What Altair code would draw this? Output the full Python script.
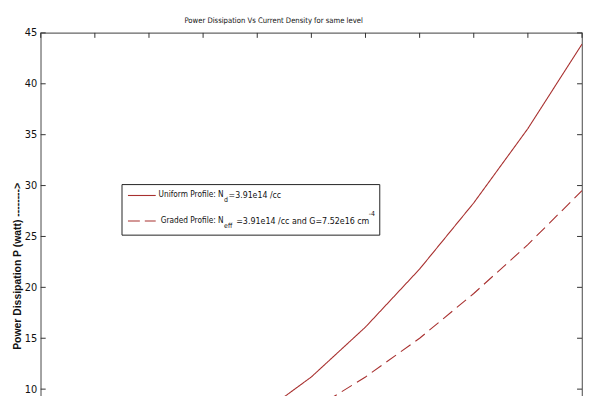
import altair as alt
import pandas as pd

# ---- data ----
current_density = [0, 1, 2, 3, 4, 5, 6, 7, 8, 9, 10]
uniform_power = [0, 0.5, 1.8, 4.1, 7.3, 11.2, 16.1, 21.8, 28.3, 35.6, 43.9]
graded_power = [0, 0.3, 1.3, 3.0, 5.2, 7.9, 11.2, 15.0, 19.4, 24.2, 29.5]
series_names = ["Uniform", "Graded"]
y_ticks = [0, 5, 10, 15, 20, 25, 30, 35, 40, 45]
x_ticks = [0, 1, 2, 3, 4, 5, 6, 7, 8, 9, 10]

title_text = "Power Dissipation Vs Current Density for same level"
y_title = "Power Dissipation P (watt) -------->"

RED = "#a8302f"
AXC = "#333333"
NARROW = "Liberation Sans Narrow, Arial Narrow, DejaVu Sans Condensed, sans-serif"
REG = "Liberation Sans, Arial, sans-serif"

W, H = 546, 462

df = pd.DataFrame({
    "J": current_density * 2,
    "P": uniform_power + graded_power,
    "series": [series_names[0]] * len(current_density) + [series_names[1]] * len(current_density),
})

xs = alt.Scale(domain=[0, 10], nice=False, zero=False)
ys = alt.Scale(domain=[0, 45], nice=False, zero=False)

y_axis = alt.Axis(
    values=y_ticks, ticks=False, domain=False, grid=False,
    labelFont=NARROW, labelFontSize=11, labelColor="#111", labelPadding=4,
    title=y_title, titleFont=REG, titleFontSize=10.5, titleFontWeight="bold",
    titleColor="#111", titleAngle=270, titleX=-23.5, titleY=235,
    titleBaseline="middle", titleAlign="center")

lines = alt.Chart(df).mark_line(clip=True, strokeWidth=1.1, color=RED).encode(
    x=alt.X("J:Q", scale=xs, axis=None),
    y=alt.Y("P:Q", scale=ys, axis=y_axis),
    strokeDash=alt.StrokeDash("series:N", scale=alt.Scale(domain=series_names, range=[[1, 0], [12, 6]]), legend=None),
)

ydf = pd.DataFrame({"P": y_ticks})
xdf = pd.DataFrame({"J": x_ticks})

left_ticks = alt.Chart(ydf).mark_rule(color=AXC, strokeWidth=1).encode(
    y=alt.Y("P:Q", scale=ys, axis=y_axis), x=alt.value(0), x2=alt.value(5))
right_ticks = alt.Chart(ydf).mark_rule(color=AXC, strokeWidth=1).encode(
    y=alt.Y("P:Q", scale=ys, axis=y_axis), x=alt.value(W - 5), x2=alt.value(W))
top_ticks = alt.Chart(xdf).mark_rule(color=AXC, strokeWidth=1).encode(
    x=alt.X("J:Q", scale=xs, axis=None), y=alt.value(0), y2=alt.value(5))
bottom_ticks = alt.Chart(xdf).mark_rule(color=AXC, strokeWidth=1).encode(
    x=alt.X("J:Q", scale=xs, axis=None), y=alt.value(H - 5), y2=alt.value(H))

one = pd.DataFrame({"k": [0]})

legend_box = alt.Chart(one).mark_rect(fill="white", stroke="#222", strokeWidth=1).encode(
    x=alt.value(82), x2=alt.value(342), y=alt.value(153), y2=alt.value(204))
leg_solid = alt.Chart(one).mark_rule(color=RED, strokeWidth=1.1).encode(
    x=alt.value(88), x2=alt.value(116), y=alt.value(164))
leg_dash = alt.Chart(one).mark_rule(color=RED, strokeWidth=1.1, strokeDash=[12, 5]).encode(
    x=alt.value(88), x2=alt.value(116), y=alt.value(189.7))


def txt(s, x, y, size=8.9, align="left", baseline="middle"):
    return alt.Chart(one).mark_text(text=s, font=NARROW, fontSize=size, color="#111",
                                    align=align, baseline=baseline).encode(
        x=alt.value(x), y=alt.value(y))


legend_text = [
    txt("Uniform Profile: N", 184.5, 164, 8.3, align="right"),
    txt("d", 185, 169, 7),
    txt("=3.91e14 /cc", 189.5, 164, 8.8),
    txt("Graded Profile: N", 184.5, 189.7, 8.3, align="right"),
    txt("eff", 185, 194.7, 7),
    txt("=3.91e14 /cc and G=7.52e16 cm", 197.2, 189.7, 8.9),
    txt("-4", 331, 182.5, 7),
]

title_mark = txt(title_text, 235, -10, 7.7, align="center", baseline="alphabetic")

chart = alt.layer(
    lines, left_ticks, right_ticks, top_ticks, bottom_ticks,
    legend_box, leg_solid, leg_dash, *legend_text, title_mark
).properties(
    width=W, height=H,
    autosize=alt.AutoSizeParams(type="none"),
    padding={"left": 33, "top": 23, "right": 2, "bottom": 2},
    background="white",
).configure_view(stroke="#666666", strokeWidth=1.2)

chart.save("out.html", embed_options={"renderer": "svg", "actions": False})
